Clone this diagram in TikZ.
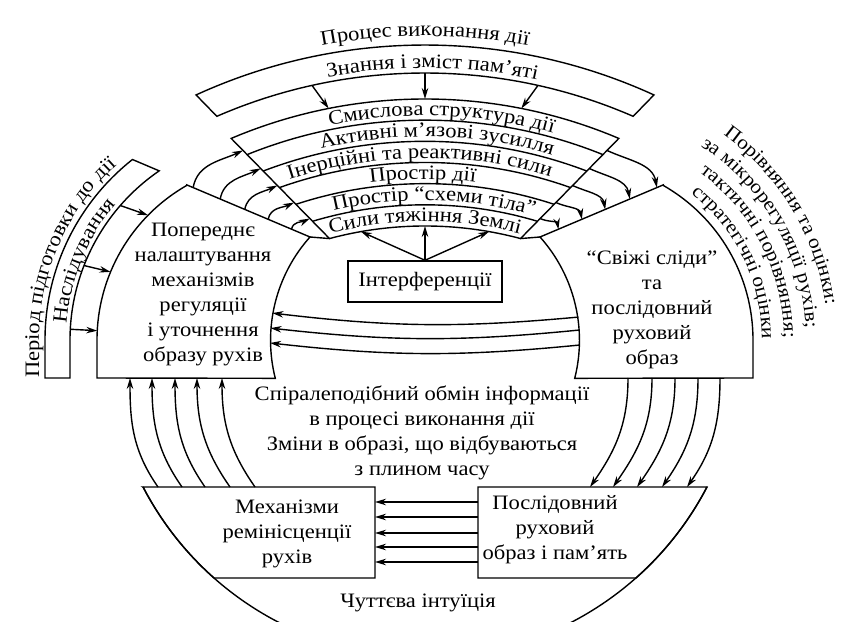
\documentclass[tikz,border=0pt]{standalone}
\usepackage{fontspec}
\setmainfont[FakeStretch=1.1]{Liberation Serif}
\usetikzlibrary{arrows.meta, calc, decorations.text}
\tikzset{>={Stealth[length=11pt,width=6.5pt]}}
\newcommand{\figfont}{\fontsize{20.5}{25}\selectfont}
\newcommand{\sidefont}{\fontsize{19.5}{24}\selectfont}
\tikzset{
  words/.style={font=\figfont, align=center},
  arctext/.style={decorate, decoration={text along path, text align=center, text={|\figfont|#1}}},
  sidetext/.style={decorate, decoration={text along path, text align=center, text={|\sidefont|#1}}},
  lefttext/.style={decorate, decoration={text along path, text align=left, text={|\figfont|#1}}},
}

\begin{document}
\begin{tikzpicture}[x=1pt, y=1pt, line width=1.4pt]
    \clip (0,0) rectangle (843,621);
    % centres of the arcs
    \coordinate (C) at (425,26);
    \coordinate (M) at (425,281);
    \coordinate (PL) at (275,281);
    \coordinate (PR) at (575,281);

    % knowledge band
    \draw ([shift={(114.6:550)}]C) arc (114.6:65.4:550) -- ([shift={(66.5:522)}]C) arc (66.5:113.5:522) -- cycle;
    \path[arctext={Процес виконання дії}] ([shift={(105:559)}]C) arc (105:75:559);
    \path[arctext={Знання і зміст пам’яті}] ([shift={(104.2:527)}]C) arc (104.2:74.2:527);

    % layers of the action
    \coordinate (tl) at ([shift={(113:496)}]C);
    \coordinate (bl) at ([shift={(105:369)}]C);
    \coordinate (br) at ([shift={(75:369)}]C);
    \coordinate (tr) at ([shift={(67:496)}]C);
    \draw (tl) -- (bl) arc (105:75:369) -- (tr) arc (67:113:496) -- cycle;
    \begin{scope}
        \clip (tl) -- (bl) -- (br) -- (tr) arc (67:113:496) -- cycle;
        \foreach \k in {1,...,5} \draw (C) circle ({496-\k*127/6});
    \end{scope}
    \path[arctext={Смислова структура дії}] ([shift={(113:479.3)}]C) arc (113:63:479.3);
    \path[arctext={Активні м’язові зусилля}] ([shift={(113.5:458.2)}]C) arc (113.5:63.5:458.2);
    \path[arctext={Інерційні та реактивні сили}] ([shift={(115.7:437)}]C) arc (115.7:65.7:437);
    \path[arctext={Простір дії}] ([shift={(115.3:415.8)}]C) arc (115.3:65.3:415.8);
    \path[arctext={Простір “схеми тіла”}] ([shift={(113.7:394.7)}]C) arc (113.7:63.7:394.7);
    \path[arctext={Сили тяжіння Землі}] ([shift={(115:373.5)}]C) arc (115:65:373.5);

    % from memory to the sense of the action
    \foreach \a/\b [count=\i] in {102.5/101.2, 90/90, 77.5/78.8} {
        \coordinate (k\i) at ([shift={(\a:522)}]C);
        \coordinate (s\i) at ([shift={(\b:496)}]C);
        \draw[->] (k\i) -- (s\i);
    }

    % preliminary tuning block
    \coordinate (lt) at (187,436);
    \coordinate (lr) at (310,384);
    \draw (lt) -- (lr) arc (138.2:194.2:155) -- (97,243) -- (97,281) arc (180:119.6:178) -- cycle;
    \draw (lr) -- (bl);
    \node[words] (prep) at (203,326) {Попереднє\\налаштування\\механізмів\\регуляції\\і уточнення\\образу рухів};

    % fresh traces block
    \coordinate (rt) at (663,436);
    \coordinate (rl) at (540,384);
    \draw (rt) -- (rl) arc (41.8:-14.2:155) -- (753,243) -- (753,281) arc (0:60.4:178) -- cycle;
    \draw (rl) -- (br);
    \node[words] (trace) at (652,311) {“Свіжі сліди”\\та\\послідовний\\руховий\\образ};

    % arrows into and out of the layers
    \foreach \s/\t [count=\i] in {0.05/0.12, 0.27/0.3, 0.47/0.47, 0.66/0.64, 0.85/0.8} {
        \coordinate (pa\i) at ($(lt)!\s!(lr)$);
        \coordinate (pb\i) at ($(tl)!\t!(bl)$);
        \draw[->] (pa\i) to[out=80,in=205] (pb\i);
        \coordinate (qa\i) at ($(tr)!\t!(br)$);
        \coordinate (qb\i) at ($(rt)!\s!(rl)$);
        \draw[->] (qa\i) to[out=-25,in=100] (qb\i);
    }

    % interference
    \node[draw, words, minimum width=154pt, minimum height=41pt] (intf) at (425,339.5) {Інтерференції};
    \foreach \a [count=\i] in {100,90,80} {
        \coordinate (g\i) at ([shift={(\a:369)}]C);
        \draw[->] (intf.north) -- (g\i);
    }

    % exchange between the two blocks
    \foreach \a/\b [count=\i] in {8.5/170, 3.7/175.6, -1.85/181.1} {
        \coordinate (ma\i) at ([shift={(\a:155)}]M);
        \coordinate (mb\i) at ([shift={(\b:155)}]M);
        \draw[->] (ma\i) to[bend left=6] (mb\i);
    }

    % preparation period band
    \draw (45,243) -- (45,281) arc (180:128.3:230) -- ([shift={(124.4:205)}]PL) arc (124.4:180:205) -- (70,243) -- cycle;
    \foreach \a/\b [count=\i] in {139/135.5, 158.7/157.5, 177/177} {
        \coordinate (na\i) at ([shift={(\a:205)}]PL);
        \coordinate (nb\i) at ([shift={(\b:178)}]PL);
        \draw[->] (na\i) -- (nb\i);
    }
    \path[arctext={Наслідування}] ([shift={(186:209)}]PL) arc (186:129:209);
    \path[lefttext={Період підготовки до дії}] (39,243) -- (39,281) arc (180:110:236);

    % comparisons on the right
    \path[sidetext={Порівняння та оцінки:}] ([shift={(81:253)}]PR) arc (81:-19:253);
    \path[sidetext={за мікрорегуляції рухів;}] ([shift={(80:231)}]PR) arc (80:-20:231);
    \path[sidetext={тактичні порівняння;}] ([shift={(77:209)}]PR) arc (77:-23:209);
    \path[sidetext={стратегічні оцінки}] ([shift={(76:187)}]PR) arc (76:-24:187);

    \node[words] (spiral) at (422,188) {Спіралеподібний обмін інформації\\в процесі виконання дії\\Зміни в образі, що відбуваються\\з плином часу};

    % lower blocks and the bowl
    \draw (143,134) -- (375,134) -- (375,43) -- (214,43) arc (228.4:207.5:318) -- cycle;
    \draw (478,134) -- (707,134) arc (-27.5:-48.4:318) -- (478,43) -- cycle;
    \draw ([shift={(207.5:318)}]M) arc (207.5:332.5:318);
    \node[words] (remin) at (287,87) {Механізми\\ремінісценції\\рухів};
    \node[words] (seq) at (555,91) {Послідовний\\руховий\\образ і пам’ять};
    \node[words] (intu) at (418,18) {Чуттєва інтуїція};

    \foreach \y [count=\i] in {119,104,88,74,59} {
        \coordinate (ha\i) at (478,\y);
        \coordinate (hb\i) at (375,\y);
        \draw[->] (ha\i) -- (hb\i);
    }
    \foreach \s/\e [count=\i] in {158/130, 182/152, 205/175, 230/197, 255/222} {
        \coordinate (ua\i) at (\s,134);
        \coordinate (ub\i) at (\e,243);
        \draw[->] (ua\i) to[out=125,in=-90] (ub\i);
    }
    \foreach \s/\e [count=\i] in {628/590, 652/613, 675/637, 698/662, 720/687} {
        \coordinate (da\i) at (\s,243);
        \coordinate (db\i) at (\e,134);
        \draw[->] (da\i) to[out=-90,in=55] (db\i);
    }
\end{tikzpicture}
\end{document}
